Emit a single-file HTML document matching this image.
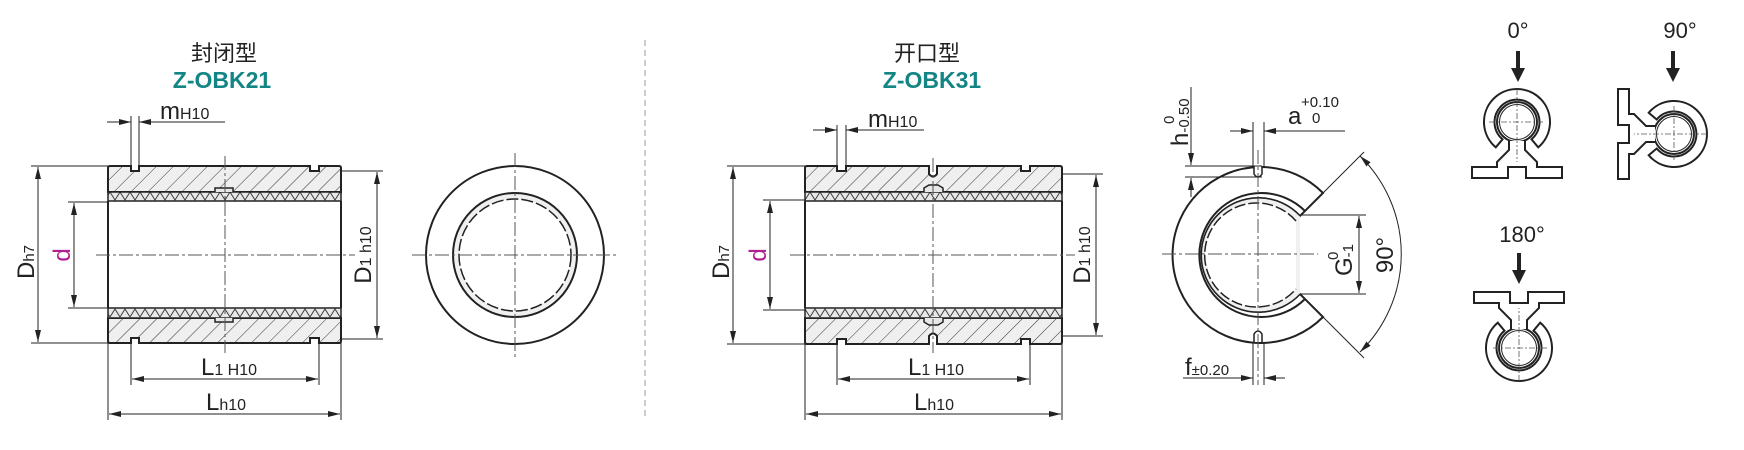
<!DOCTYPE html>
<html><head><meta charset="utf-8"><style>
html,body{margin:0;padding:0;background:#fff;}
svg{display:block;font-family:"Liberation Sans","Noto Sans CJK SC",sans-serif;}
</style></head><body>
<svg width="1744" height="450" viewBox="0 0 1744 450" xmlns="http://www.w3.org/2000/svg">
<defs>
<pattern id="hat" patternUnits="userSpaceOnUse" width="12" height="12" patternTransform="rotate(45)">
<rect width="12" height="12" fill="#efefef"/><line x1="0" y1="0" x2="0" y2="12" stroke="#333" stroke-width="1"/></pattern>
<pattern id="kn" patternUnits="userSpaceOnUse" width="10" height="10" x="0" y="192">
<rect width="10" height="10" fill="#e8e8e8"/><path d="M0,0 L5,8 L10,0" fill="none" stroke="#333" stroke-width="0.9"/></pattern>
<pattern id="kn2" patternUnits="userSpaceOnUse" width="10" height="10" x="0" y="308">
<rect width="10" height="10" fill="#e8e8e8"/><path d="M0,9 L5,1 L10,9" fill="none" stroke="#333" stroke-width="0.9"/></pattern>
<marker id="ar" viewBox="0 0 12 6" refX="12" refY="3" markerWidth="12" markerHeight="6" markerUnits="userSpaceOnUse" orient="auto-start-reverse"><path d="M0,0 L12,3 L0,6 Z" fill="#222"/></marker>
<g id="icon">
<path d="M-14.5,17.3 L-21.2,25.3 A33,33 0 1 1 21.2,25.3 L14.5,17.3 A22.5,22.5 0 1 0 -14.5,17.3 Z" fill="#fff" stroke="#222" stroke-width="2"/>
<circle r="20" fill="#fff" stroke="#222" stroke-width="2"/><circle r="17.5" fill="none" stroke="#222" stroke-width="1"/>
<path d="M-8,19 L-8,28 L-20,40 L-20,45 L-45,45 L-45,56 L-9,56 L-9,45 L9,45 L9,56 L45,56 L45,45 L20,45 L20,40 L8,28 L8,19" fill="#fff" stroke="#222" stroke-width="2"/>
<g stroke="#555" stroke-width="0.8" stroke-dasharray="6,2,2,2"><line x1="-28" y1="0" x2="28" y2="0"/><line x1="0" y1="-33" x2="0" y2="40"/></g>
</g>
</defs>

<line x1="645" y1="40" x2="645" y2="420" stroke="#bbb" stroke-width="1.5" stroke-dasharray="6,4"/>

<text x="224" y="61" font-size="22" text-anchor="middle" fill="#222">封闭型</text>
<text x="222" y="88" font-size="23" font-weight="bold" text-anchor="middle" fill="#138585">Z-OBK21</text>
<text x="927" y="61" font-size="22" text-anchor="middle" fill="#222">开口型</text>
<text x="932" y="88" font-size="23" font-weight="bold" text-anchor="middle" fill="#138585">Z-OBK31</text>

<!-- LEFT BODY -->
<g stroke="#222" stroke-width="2">
<path d="M108,192 L108,168 Q108,166 110,166 L131,166 L131,171 L139,171 L139,166 L310,166 L310,171 L319,171 L319,166 L339,166 Q341,166 341,168 L341,192 Z" fill="url(#hat)"/>
<path d="M108,318 L108,341 Q108,343 110,343 L131,343 L131,338 L139,338 L139,343 L310,343 L310,338 L319,338 L319,343 L339,343 Q341,343 341,341 L341,318 Z" fill="url(#hat)"/>
<rect x="108" y="192" width="233" height="9" fill="url(#kn)" stroke-width="1.5"/>
<rect x="108" y="308" width="233" height="10" fill="url(#kn2)" stroke-width="1.5"/>
<path d="M215,192 L215,188 L233,188 L233,192" fill="#e8e8e8" stroke-width="1.5"/>
<path d="M215,318 L215,322 L233,322 L233,318" fill="#e8e8e8" stroke-width="1.5"/>
<line x1="108" y1="201" x2="108" y2="308"/><line x1="341" y1="201" x2="341" y2="308"/>
</g>
<g stroke="#555" stroke-width="1" stroke-dasharray="14,3,3,3">
<line x1="96" y1="255" x2="355" y2="255"/><line x1="225" y1="156" x2="225" y2="353"/></g>

<g stroke="#222" stroke-width="1" fill="none">
<line x1="31" y1="166" x2="108" y2="166"/><line x1="31" y1="343" x2="108" y2="343"/>
<line x1="38" y1="167" x2="38" y2="342" marker-start="url(#ar)" marker-end="url(#ar)"/>
<line x1="68" y1="202" x2="108" y2="202"/><line x1="68" y1="308" x2="108" y2="308"/>
<line x1="74" y1="203" x2="74" y2="307" marker-start="url(#ar)" marker-end="url(#ar)"/>
<line x1="341" y1="171" x2="383" y2="171"/><line x1="341" y1="339" x2="383" y2="339"/>
<line x1="377" y1="172" x2="377" y2="338" marker-start="url(#ar)" marker-end="url(#ar)"/>
<line x1="131" y1="116" x2="131" y2="166"/><line x1="139" y1="116" x2="139" y2="166"/>
<line x1="107" y1="122" x2="131" y2="122" marker-end="url(#ar)"/>
<line x1="225" y1="122" x2="139" y2="122" marker-end="url(#ar)"/>
<line x1="131" y1="343" x2="131" y2="385"/><line x1="319" y1="343" x2="319" y2="385"/>
<line x1="132" y1="379" x2="318" y2="379" marker-start="url(#ar)" marker-end="url(#ar)"/>
<line x1="108" y1="343" x2="108" y2="420"/><line x1="341" y1="343" x2="341" y2="420"/>
<line x1="109" y1="414" x2="340" y2="414" marker-start="url(#ar)" marker-end="url(#ar)"/>
</g>
<g fill="#222">
<text transform="translate(34,262) rotate(-90)" font-size="24" text-anchor="middle">D<tspan font-size="15">h7</tspan></text>
<text transform="translate(70,255) rotate(-90)" font-size="24" text-anchor="middle" fill="#b0208f">d</text>
<text transform="translate(371,255) rotate(-90)" font-size="24" text-anchor="middle">D<tspan font-size="16">1 h10</tspan></text>
<text x="160" y="119" font-size="24">m<tspan font-size="16">H10</tspan></text>
<text x="229" y="375" font-size="24" text-anchor="middle">L<tspan font-size="16">1 H10</tspan></text>
<text x="226" y="410" font-size="24" text-anchor="middle">L<tspan font-size="16">h10</tspan></text>
</g>

<circle cx="515" cy="255" r="89" fill="#fff" stroke="#222" stroke-width="2"/>
<circle cx="515" cy="255" r="62" fill="#f0f0f0" stroke="#222" stroke-width="2"/>
<circle cx="515" cy="255" r="56" fill="#fff" stroke="#222" stroke-width="1.5" stroke-dasharray="12,3"/>
<g stroke="#555" stroke-width="1" stroke-dasharray="14,3,3,3">
<line x1="412" y1="255" x2="619" y2="255"/><line x1="515" y1="153" x2="515" y2="357"/></g>

<!-- RIGHT BODY -->
<g stroke="#222" stroke-width="2">
<path d="M805,192 L805,168 Q805,166 807,166 L837,166 L837,171 L846,171 L846,166 L929,166 L929,174 Q933,179 937,174 L937,166 L1021,166 L1021,171 L1030,171 L1030,166 L1060,166 Q1062,166 1062,168 L1062,192 Z" fill="url(#hat)"/>
<path d="M805,318 L805,342 Q805,344 807,344 L837,344 L837,339 L846,339 L846,344 L929,344 L929,336 Q933,331 937,336 L937,344 L1021,344 L1021,339 L1030,339 L1030,344 L1060,344 Q1062,344 1062,342 L1062,318 Z" fill="url(#hat)"/>
<rect x="805" y="192" width="257" height="9" fill="url(#kn)" stroke-width="1.5"/>
<rect x="805" y="308" width="257" height="10" fill="url(#kn2)" stroke-width="1.5"/>
<path d="M924,192 L924,188 L929,185 L938,185 L943,188 L943,192" fill="#e8e8e8" stroke-width="1.5"/>
<path d="M924,318 L924,322 L929,325 L938,325 L943,322 L943,318" fill="#e8e8e8" stroke-width="1.5"/>
<line x1="805" y1="201" x2="805" y2="308"/><line x1="1062" y1="201" x2="1062" y2="308"/>
</g>
<g stroke="#555" stroke-width="1" stroke-dasharray="14,3,3,3">
<line x1="790" y1="255" x2="1075" y2="255"/><line x1="933" y1="158" x2="933" y2="353"/></g>

<g stroke="#222" stroke-width="1" fill="none">
<line x1="727" y1="166" x2="805" y2="166"/><line x1="727" y1="344" x2="805" y2="344"/>
<line x1="733" y1="167" x2="733" y2="343" marker-start="url(#ar)" marker-end="url(#ar)"/>
<line x1="763" y1="200" x2="805" y2="200"/><line x1="763" y1="310" x2="805" y2="310"/>
<line x1="770" y1="201" x2="770" y2="309" marker-start="url(#ar)" marker-end="url(#ar)"/>
<line x1="1062" y1="174" x2="1103" y2="174"/><line x1="1062" y1="336" x2="1103" y2="336"/>
<line x1="1096" y1="175" x2="1096" y2="335" marker-start="url(#ar)" marker-end="url(#ar)"/>
<line x1="837" y1="125" x2="837" y2="166"/><line x1="846" y1="125" x2="846" y2="166"/>
<line x1="813" y1="130" x2="837" y2="130" marker-end="url(#ar)"/>
<line x1="924" y1="130" x2="846" y2="130" marker-end="url(#ar)"/>
<line x1="837" y1="344" x2="837" y2="385"/><line x1="1030" y1="344" x2="1030" y2="385"/>
<line x1="838" y1="379" x2="1029" y2="379" marker-start="url(#ar)" marker-end="url(#ar)"/>
<line x1="805" y1="344" x2="805" y2="420"/><line x1="1062" y1="344" x2="1062" y2="420"/>
<line x1="806" y1="414" x2="1061" y2="414" marker-start="url(#ar)" marker-end="url(#ar)"/>
</g>
<g fill="#222">
<text transform="translate(729,262) rotate(-90)" font-size="24" text-anchor="middle">D<tspan font-size="15">h7</tspan></text>
<text transform="translate(766,255) rotate(-90)" font-size="24" text-anchor="middle" fill="#b0208f">d</text>
<text transform="translate(1090,255) rotate(-90)" font-size="24" text-anchor="middle">D<tspan font-size="16">1 h10</tspan></text>
<text x="868" y="127" font-size="24">m<tspan font-size="16">H10</tspan></text>
<text x="936" y="375" font-size="24" text-anchor="middle">L<tspan font-size="16">1 H10</tspan></text>
<text x="934" y="410" font-size="24" text-anchor="middle">L<tspan font-size="16">h10</tspan></text>
</g>

<!-- C view -->
<path d="M1323,193 A88,88 0 1 0 1323,317 L1300,294 A57,57 0 1 1 1300,216 Z" fill="#fff" stroke="#222" stroke-width="2"/>
<path d="M1305,211 A62,62 0 1 0 1305,299" fill="none" stroke="#222" stroke-width="2"/>
<path d="M1300,216 A57,57 0 1 0 1300,294" fill="#f0f0f0" stroke="#222" stroke-width="1.2"/>
<path d="M1296,221 A52,52 0 1 0 1296,289" fill="#fff" stroke="#222" stroke-width="1.5" stroke-dasharray="11,3"/>
<path d="M1254,166 L1254,174 Q1258,180 1262,174 L1262,166" fill="#fff" stroke="#222" stroke-width="1.5"/>
<path d="M1254,342 L1254,334 Q1258,328 1262,334 L1262,342" fill="#fff" stroke="#222" stroke-width="1.5"/>
<g stroke="#555" stroke-width="1" stroke-dasharray="14,3,3,3">
<line x1="1162" y1="254" x2="1318" y2="254"/><line x1="1258" y1="150" x2="1258" y2="385"/></g>
<g stroke="#222" stroke-width="1" fill="none">
<line x1="1300" y1="215" x2="1366" y2="215"/><line x1="1300" y1="294" x2="1366" y2="294"/>
<line x1="1359" y1="216" x2="1359" y2="293" marker-start="url(#ar)" marker-end="url(#ar)"/>
<line x1="1323" y1="193" x2="1364" y2="152"/><line x1="1323" y1="317" x2="1364" y2="358"/>
<path d="M1360,156 A137,137 0 0 1 1360,352" marker-start="url(#ar)" marker-end="url(#ar)"/>
<line x1="1185" y1="166" x2="1262" y2="166"/><line x1="1185" y1="177" x2="1262" y2="177"/>
<line x1="1191" y1="87" x2="1191" y2="165" marker-end="url(#ar)"/>
<line x1="1191" y1="197" x2="1191" y2="178" marker-end="url(#ar)"/>
<line x1="1253" y1="122" x2="1253" y2="168"/><line x1="1264" y1="122" x2="1264" y2="168"/>
<line x1="1230" y1="131" x2="1253" y2="131" marker-end="url(#ar)"/>
<line x1="1345" y1="131" x2="1264" y2="131" marker-end="url(#ar)"/>
<line x1="1253" y1="342" x2="1253" y2="385"/><line x1="1264" y1="342" x2="1264" y2="385"/>
<line x1="1183" y1="378" x2="1253" y2="378" marker-end="url(#ar)"/>
<line x1="1285" y1="378" x2="1264" y2="378" marker-end="url(#ar)"/>
</g>
<g fill="#222">
<text transform="translate(1188,146) rotate(-90)" font-size="24">h<tspan font-size="15" dy="1">-0.50</tspan></text>
<text transform="translate(1174,124) rotate(-90)" font-size="15">0</text>
<text x="1288" y="124" font-size="24">a</text>
<text x="1301" y="107" font-size="15">+0.10</text>
<text x="1312" y="123" font-size="15">0</text>
<text x="1185" y="375" font-size="24">f<tspan font-size="15">±0.20</tspan></text>
<text transform="translate(1352,276) rotate(-90)" font-size="24">G<tspan font-size="15" dy="1">-1</tspan></text>
<text transform="translate(1338,260) rotate(-90)" font-size="15">0</text>
<text transform="translate(1393,255) rotate(-90)" font-size="24" text-anchor="middle">90°</text>
</g>

<g fill="#222" font-size="22" text-anchor="middle">
<text x="1518" y="38">0°</text>
<text x="1680" y="38">90°</text>
<text x="1522" y="242">180°</text>
</g>
<g fill="#222">
<rect x="1516" y="51" width="4" height="18"/><path d="M1511,68 L1525,68 L1518,82 Z"/>
<rect x="1671" y="51" width="4" height="18"/><path d="M1666,68 L1680,68 L1673,82 Z"/>
<rect x="1517" y="253" width="4" height="18"/><path d="M1512,270 L1526,270 L1519,284 Z"/>
</g>
<use href="#icon" transform="translate(1517,122)"/>
<use href="#icon" transform="translate(1674,134) rotate(90)"/>
<use href="#icon" transform="translate(1519,348) rotate(180)"/>
</svg>
</body></html>
